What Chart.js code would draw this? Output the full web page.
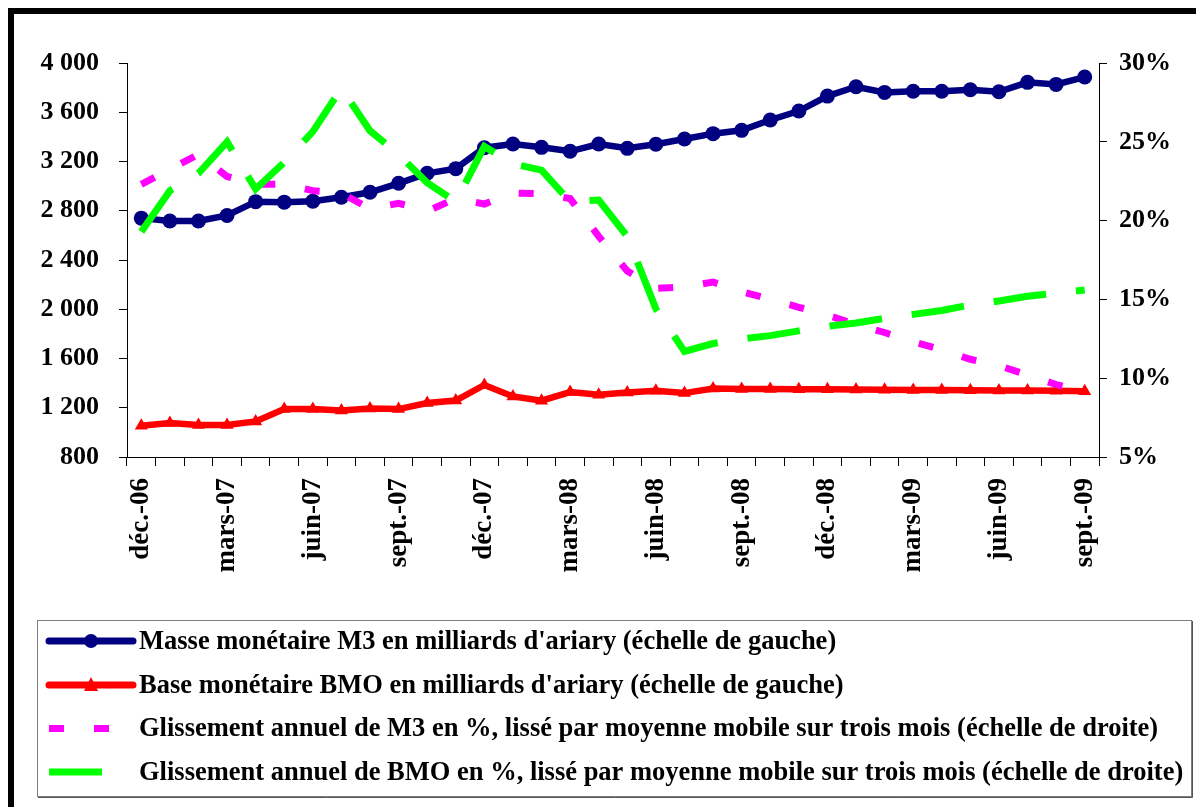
<!DOCTYPE html>
<html>
<head>
<meta charset="utf-8">
<script src="https://cdn.jsdelivr.net/npm/chart.js@4/dist/chart.umd.min.js"></script>
<style>
  html, body { margin: 0; padding: 0; background: #fff; }
  #wrap { position: relative; width: 1196px; height: 807px; }
</style>
</head>
<body>
<div id="wrap"><canvas id="c" width="1196" height="807"></canvas></div>
<script>
// ---- Data ----
const months = ['déc.-06','janv.-07','févr.-07','mars-07','avr.-07','mai-07','juin-07','juil.-07','août-07','sept.-07','oct.-07','nov.-07',
  'déc.-07','janv.-08','févr.-08','mars-08','avr.-08','mai-08','juin-08','juil.-08','août-08','sept.-08','oct.-08','nov.-08',
  'déc.-08','janv.-09','févr.-09','mars-09','avr.-09','mai-09','juin-09','juil.-09','août-09','sept.-09'];

const m3Values = [2740,2717,2717,2762,2874,2870,2878,2910,2950,3023,3104,3142,
  3312,3342,3315,3283,3342,3307,3340,3383,3426,3453,3537,3610,
  3731,3807,3761,3770,3770,3783,3766,3843,3826,3886];

const bmoValues = [1054,1076,1060,1060,1089,1189,1189,1178,1194,1189,1238,1259,
  1385,1292,1257,1327,1305,1324,1338,1319,1357,1352,1352,1350,
  1350,1348,1346,1345,1344,1342,1340,1340,1338,1335];

const m3GrowthPct = [22.3,23.25,24.2,22.8,22.3,22.3,21.9,21.75,20.75,21.1,20.6,21.4,
  21.05,21.75,21.7,21.4,19.0,16.8,15.7,15.8,16.1,15.5,15.0,14.5,
  14.0,13.4,12.9,12.3,11.8,11.2,10.8,10.2,9.6,9.1];

const bmoGrowthPct = [19.3,21.9,23.0,25.0,22.0,23.7,25.65,28.4,25.7,24.2,22.4,21.2,
  24.7,23.6,23.2,21.2,21.3,19.0,14.4,11.7,12.2,12.5,12.7,13.0,
  13.3,13.5,13.8,14.05,14.3,14.65,14.9,15.2,15.4,15.6];

const leftTicks = [800,1200,1600,2000,2400,2800,3200,3600,4000];
const rightTicks = [5,10,15,20,25,30];

const seriesLabels = [
  "Masse monétaire M3 en milliards d'ariary (échelle de gauche)",
  "Base monétaire BMO en milliards d'ariary (échelle de gauche)",
  "Glissement annuel de M3 en %, lissé par moyenne mobile sur trois mois (échelle de droite)",
  "Glissement annuel de BMO en %, lissé par moyenne mobile sur trois mois (échelle de droite)"
];

const FONT = "'Liberation Serif', 'Times New Roman', serif";

function fmtThousands(v) {
  const s = String(Math.round(v));
  return s.length > 3 ? s.slice(0, s.length - 3) + '\u00a0' + s.slice(-3) : s;
}

const framePlugin = {
  id: 'frame',
  beforeDraw(chart) {
    const ctx = chart.ctx;
    ctx.save();
    ctx.fillStyle = '#fff';
    ctx.fillRect(0, 0, chart.width, chart.height);
    ctx.fillStyle = '#000';
    ctx.fillRect(8, 8, chart.width - 8, 6);
    ctx.fillRect(8, 8, 6, chart.height - 8);
    ctx.restore();
  }
};

const legendPlugin = {
  id: 'boxLegend',
  afterDraw(chart) {
    const ctx = chart.ctx;
    ctx.save();
    ctx.strokeStyle = '#7f7f7f';
    ctx.lineWidth = 1;
    ctx.strokeRect(37.5, 620.5, 1154, 176);
    ctx.strokeStyle = '#555';
    ctx.beginPath();
    ctx.moveTo(1192.5, 621); ctx.lineTo(1192.5, 797.5); ctx.lineTo(38, 797.5);
    ctx.stroke();

    const rows = [641, 685, 728.5, 772];
    chart.data.datasets.forEach((ds, i) => {
      const y = rows[i];
      ctx.save();
      ctx.strokeStyle = ds.borderColor;
      ctx.lineWidth = 7;
      if (i < 2) {
        ctx.lineCap = 'round';
        ctx.beginPath(); ctx.moveTo(49, y); ctx.lineTo(133, y); ctx.stroke();
        ctx.fillStyle = ds.borderColor;
        if (i === 0) {
          ctx.beginPath(); ctx.arc(91, y, 7, 0, Math.PI * 2); ctx.fill();
        } else {
          ctx.beginPath(); ctx.moveTo(91, y - 8); ctx.lineTo(98, y + 6); ctx.lineTo(84, y + 6); ctx.closePath(); ctx.fill();
        }
      } else {
        ctx.lineCap = 'butt';
        ctx.setLineDash(ds.borderDash);
        ctx.beginPath(); ctx.moveTo(49, y); ctx.lineTo(i === 2 ? 111 : 103, y); ctx.stroke();
      }
      ctx.restore();
      ctx.fillStyle = '#000';
      ctx.font = 'bold 26.5px ' + FONT;
      ctx.textBaseline = 'middle';
      ctx.textAlign = 'left';
      ctx.fillText(ds.label, 139, y + 1);
    });
    ctx.restore();
  }
};

const yTickFont = { family: FONT, weight: 'bold', size: 26 };
const xTickFont = { family: FONT, weight: 'bold', size: 27 };

new Chart(document.getElementById('c'), {
  type: 'line',
  data: {
    labels: months,
    datasets: [
      { label: seriesLabels[0], data: m3Values, yAxisID: 'y', borderColor: '#000080', backgroundColor: '#000080',
        borderWidth: 6.5, pointStyle: 'circle', pointRadius: 7.5, pointBorderWidth: 0, tension: 0, order: 4 },
      { label: seriesLabels[1], data: bmoValues, yAxisID: 'y', borderColor: '#ff0000', backgroundColor: '#ff0000',
        borderWidth: 6.5, pointStyle: 'triangle', pointRadius: 7.5, pointBorderWidth: 0, tension: 0, order: 3 },
      { label: seriesLabels[2], data: m3GrowthPct, yAxisID: 'y1', borderColor: '#ff00ff', backgroundColor: '#ff00ff',
        borderWidth: 7, borderDash: [15, 30], borderCapStyle: 'butt', pointRadius: 0, tension: 0, order: 2 },
      { label: seriesLabels[3], data: bmoGrowthPct, yAxisID: 'y1', borderColor: '#00ff00', backgroundColor: '#00ff00',
        borderWidth: 7, borderDash: [53, 30], borderCapStyle: 'butt', pointRadius: 0, tension: 0, order: 1 }
    ]
  },
  options: {
    responsive: false,
    animation: false,
    devicePixelRatio: 1,
    layout: { padding: { left: 0, right: 0, top: 63, bottom: 220 } },
    plugins: { legend: { display: false }, tooltip: { enabled: false } },
    scales: {
      x: {
        type: 'category',
        offset: true,
        grid: { offset: true, drawOnChartArea: false, drawTicks: true, tickLength: 9, color: '#000', tickWidth: 1 },
        border: { display: true, color: '#000', width: 1 },
        ticks: {
          autoSkip: false, minRotation: 90, maxRotation: 90, padding: 12, color: '#000', font: xTickFont,
          callback: (v, i) => (i % 3 === 0 ? months[i] : '')
        },
        afterFit: s => { s.height = 130; }
      },
      y: {
        position: 'left', min: 800, max: 4000,
        afterBuildTicks: s => { s.ticks = leftTicks.map(v => ({ value: v })); },
        grid: { drawOnChartArea: false, tickLength: 8, color: '#000' },
        border: { display: true, color: '#000', width: 1 },
        ticks: { padding: 20, color: '#000', font: yTickFont, callback: v => fmtThousands(v) },
        afterFit: s => { s.width = 127; }
      },
      y1: {
        position: 'right', min: 5, max: 30,
        afterBuildTicks: s => { s.ticks = rightTicks.map(v => ({ value: v })); },
        grid: { drawOnChartArea: false, tickLength: 8, color: '#000' },
        border: { display: true, color: '#000', width: 1 },
        ticks: { padding: 12, color: '#000', font: yTickFont, callback: v => v + '%' },
        afterFit: s => { s.width = 97; }
      }
    }
  },
  plugins: [framePlugin, legendPlugin]
});
</script>
</body>
</html>
